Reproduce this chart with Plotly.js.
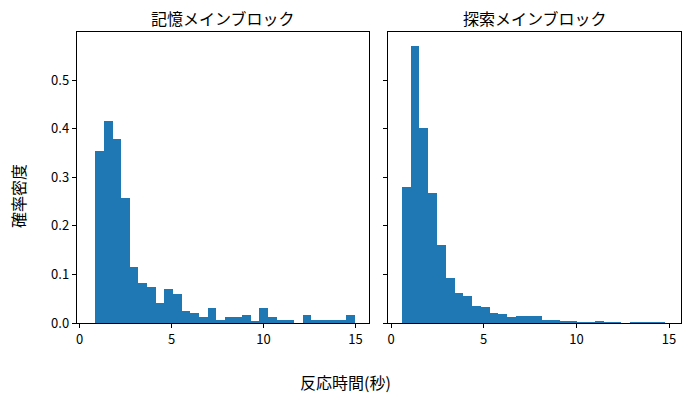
<!DOCTYPE html>
<html>
<head>
<meta charset="utf-8">
<script src="https://cdn.plot.ly/plotly-3.0.1.min.js"></script>
<style>
  html, body { margin: 0; padding: 0; background: #fff; }
  #chart { width: 690px; height: 401px; }
</style>
</head>
<body>
<div id="chart"></div>
<script>
// histogram densities (30 bins each)
var memoryStart = 0.85;
var memoryWidth = 0.47;
var memoryDensity = [0.355, 0.415, 0.378, 0.257, 0.115, 0.083, 0.074, 0.041, 0.070, 0.059,
                     0.025, 0.021, 0.013, 0.031, 0.007, 0.013, 0.013, 0.017, 0.0035, 0.031,
                     0.013, 0.007, 0.007, 0, 0.017, 0.007, 0.007, 0.007, 0.007, 0.017];

var searchStart = 0.59;
var searchWidth = 0.473;
var searchDensity = [0.280, 0.570, 0.401, 0.267, 0.161, 0.093, 0.062, 0.055, 0.035, 0.033,
                     0.021, 0.018, 0.012, 0.014, 0.014, 0.014, 0.007, 0.007, 0.005, 0.005,
                     0.0015, 0.003, 0.005, 0.0015, 0.003, 0.0008, 0.003, 0.0015, 0.0015, 0.003];

var panelTitles = ['記憶メインブロック', '探索メインブロック'];
var xTitle = '反応時間(秒)';
var yTitle = '確率密度';
var xTicks = [0, 5, 10, 15];
var yTicks = [0, 0.1, 0.2, 0.3, 0.4, 0.5];

var FONT = '"Noto Sans CJK JP", "DejaVu Sans", sans-serif';
var W = 690, H = 401;

function centers(start, width, n) {
    var out = [];
    for (var i = 0; i < n; i++) out.push(start + width * (i + 0.5));
    return out;
}

var traces = [
    {
        type: 'bar',
        x: centers(memoryStart, memoryWidth, memoryDensity.length),
        y: memoryDensity,
        width: memoryWidth,
        marker: {color: '#1f77b4', line: {width: 0}},
        xaxis: 'x', yaxis: 'y',
        hoverinfo: 'x+y'
    },
    {
        type: 'bar',
        x: centers(searchStart, searchWidth, searchDensity.length),
        y: searchDensity,
        width: searchWidth,
        marker: {color: '#1f77b4', line: {width: 0}},
        xaxis: 'x2', yaxis: 'y2',
        hoverinfo: 'x+y'
    }
];

// axes boxes in pixels
var leftBox = [76.7, 368.7];
var rightBox = [388.3, 681.3];
var topPx = 32.3, bottomPx = 323;

function xAxis(box, range, anchor) {
    return {
        domain: [box[0] / W, box[1] / W],
        range: range,
        anchor: anchor,
        tickvals: xTicks,
        ticks: 'outside', ticklen: 4, tickwidth: 1, tickcolor: '#000',
        showline: true, linecolor: '#000', linewidth: 1, mirror: true,
        showgrid: false, zeroline: false,
        tickfont: {family: FONT, size: 13, color: '#000'},
        automargin: false
    };
}

function yAxis(anchor, showLabels) {
    return {
        domain: [1 - bottomPx / H, 1 - topPx / H],
        range: [0, 0.5985],
        anchor: anchor,
        tickvals: yTicks,
        tickformat: '.1f',
        showticklabels: showLabels,
        ticks: 'outside', ticklen: 4, tickwidth: 1, tickcolor: '#000',
        showline: true, linecolor: '#000', linewidth: 1, mirror: true,
        showgrid: false, zeroline: false,
        tickfont: {family: FONT, size: 13, color: '#000'},
        automargin: false
    };
}

var layout = {
    width: W, height: H,
    margin: {l: 0, r: 0, t: 0, b: 0},
    paper_bgcolor: '#fff', plot_bgcolor: '#fff',
    showlegend: false,
    bargap: 0,
    xaxis: xAxis(leftBox, [-0.16, 15.72], 'y'),
    yaxis: yAxis('x', true),
    xaxis2: xAxis(rightBox, [-0.146, 15.66], 'y2'),
    yaxis2: yAxis('x2', false),
    annotations: [
        {text: panelTitles[0], xref: 'paper', yref: 'paper',
         x: (leftBox[0] + leftBox[1]) / 2 / W, y: 1 - 18.5 / H,
         xanchor: 'center', yanchor: 'middle', showarrow: false,
         font: {family: FONT, size: 16, color: '#000'}},
        {text: panelTitles[1], xref: 'paper', yref: 'paper',
         x: (rightBox[0] + rightBox[1]) / 2 / W, y: 1 - 18.5 / H,
         xanchor: 'center', yanchor: 'middle', showarrow: false,
         font: {family: FONT, size: 16, color: '#000'}},
        {text: xTitle, xref: 'paper', yref: 'paper',
         x: 0.5, y: 1 - 382 / H,
         xanchor: 'center', yanchor: 'middle', showarrow: false,
         font: {family: FONT, size: 16, color: '#000'}},
        {text: yTitle, xref: 'paper', yref: 'paper',
         x: 18 / W, y: 1 - 196 / H, textangle: -90,
         xanchor: 'center', yanchor: 'middle', showarrow: false,
         font: {family: FONT, size: 16, color: '#000'}}
    ]
};

Plotly.newPlot('chart', traces, layout, {staticPlot: true, displayModeBar: false});
</script>
</body>
</html>
